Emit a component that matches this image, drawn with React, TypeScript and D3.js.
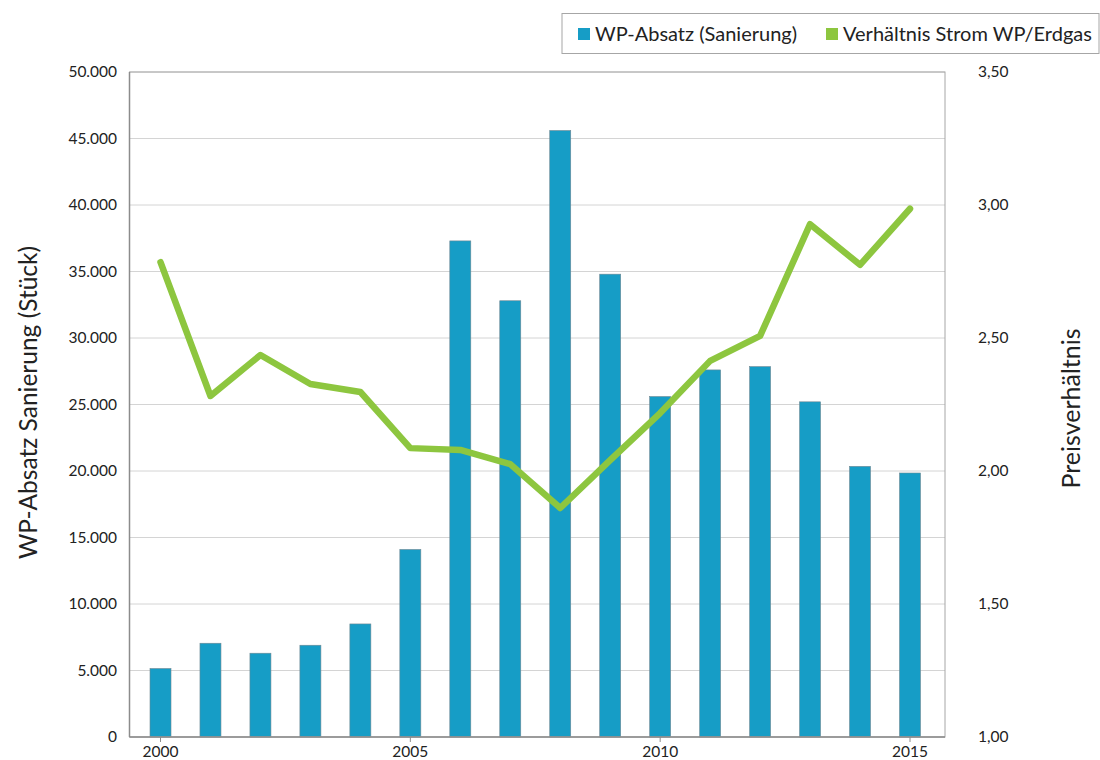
import React from "react";
import * as d3 from "d3";

const years = [2000, 2001, 2002, 2003, 2004, 2005, 2006, 2007, 2008, 2009, 2010, 2011, 2012, 2013, 2014, 2015];
const absatz = [5150, 7050, 6300, 6900, 8500, 14100, 37300, 32800, 45600, 34800, 25600, 27600, 27850, 25200, 20350, 19850];
const verhaeltnis = [2.785, 2.282, 2.436, 2.327, 2.297, 2.086, 2.079, 2.026, 1.861, 2.041, 2.218, 2.414, 2.508, 2.928, 2.775, 2.986];
const leftTicks = [0, 5000, 10000, 15000, 20000, 25000, 30000, 35000, 40000, 45000, 50000];
const rightTicks = [1.0, 1.5, 2.0, 2.5, 3.0, 3.5];
const xTickYears = [2000, 2005, 2010, 2015];

const FONT = "Lato, 'Open Sans', sans-serif";
const BLUE = "#169DC6";
const GREEN = "#8DC63F";

export default function App() {
  const W = 1100, H = 760;
  const left = 129.5, right = 945, top = 72, bottom = 737;
  const x = d3.scaleLinear().domain([2000, 2015]).range([160.5, 910]);
  const yL = d3.scaleLinear().domain([0, 50000]).range([bottom, top]);
  const yR = d3.scaleLinear().domain([1, 3.5]).range([bottom, top]);
  const barW = 21;
  const fmtL = (v: number) => (v === 0 ? "0" : d3.format(",")(v).replace(/,/g, "."));
  const fmtR = (v: number) => v.toFixed(2).replace(".", ",");
  const line = d3.line<number>().x((_, i) => x(years[i])).y((d) => yR(d));

  return (
    <svg width={W} height={H} style={{ position: "absolute", left: 0, top: 0, fontFamily: FONT }}>
      <rect x={0} y={0} width={W} height={H} fill="#fff" />
      {/* gridlines */}
      {leftTicks.map((t) => (
        <line key={"g" + t} x1={left} x2={right} y1={yL(t)} y2={yL(t)} stroke="#d4d4d4" strokeWidth={1} />
      ))}
      {/* bars */}
      {absatz.map((v, i) => (
        <g key={"b" + i}>
          <rect x={x(years[i]) - barW / 2} y={yL(v)} width={barW} height={bottom - yL(v)} fill={BLUE} stroke="#6f8792" strokeWidth={0.6} />
        </g>
      ))}
      {/* frame */}
      <rect x={left} y={top} width={right - left} height={bottom - top} fill="none" stroke="#a6a6a6" strokeWidth={1} />
      <line x1={left} x2={left} y1={top} y2={bottom} stroke="#8c8c8c" strokeWidth={1.5} />
      <line x1={left} x2={right} y1={bottom} y2={bottom} stroke="#8c8c8c" strokeWidth={1.5} />
      {/* line */}
      <path d={line(verhaeltnis) || ""} fill="none" stroke={GREEN} strokeWidth={6.5} strokeLinejoin="round" strokeLinecap="round" />
      {/* left ticks */}
      {leftTicks.map((t) => (
        <text key={"l" + t} x={117} y={yL(t)} dy="0.35em" textAnchor="end" fontSize={15.5} fill="#222">
          {fmtL(t)}
        </text>
      ))}
      {/* right ticks */}
      {rightTicks.map((t) => (
        <text key={"r" + t} x={978} y={yR(t)} dy="0.35em" textAnchor="start" fontSize={15.5} fill="#222">
          {fmtR(t)}
        </text>
      ))}
      {/* x ticks */}
      {xTickYears.map((yv) => (
        <g key={"x" + yv}>
          <line x1={x(yv)} x2={x(yv)} y1={bottom} y2={bottom + 5} stroke="#8c8c8c" strokeWidth={1} />
          <text x={x(yv)} y={bottom + 20} textAnchor="middle" fontSize={15.5} fill="#222">
            {yv}
          </text>
        </g>
      ))}
      {/* axis titles */}
      <text transform={`translate(37,${(top + bottom) / 2 - 2}) rotate(-90)`} textAnchor="middle" fontSize={24.5} fill="#222">
        WP-Absatz Sanierung (Stück)
      </text>
      <text transform={`translate(1080,${(top + bottom) / 2 + 4}) rotate(-90)`} textAnchor="middle" fontSize={25} fill="#222">
        Preisverhältnis
      </text>
      {/* legend */}
      <rect x={562} y={13.5} width={537} height={40} fill="#fff" stroke="#a6a6a6" strokeWidth={1} />
      <rect x={578} y={28} width={12} height={12} fill={BLUE} />
      <text x={595} y={34} dy="0.35em" fontSize={20} fill="#222">WP-Absatz (Sanierung)</text>
      <rect x={826} y={28} width={12} height={12} fill={GREEN} />
      <text x={843} y={34} dy="0.35em" fontSize={20} fill="#222">Verhältnis Strom WP/Erdgas</text>
    </svg>
  );
}
